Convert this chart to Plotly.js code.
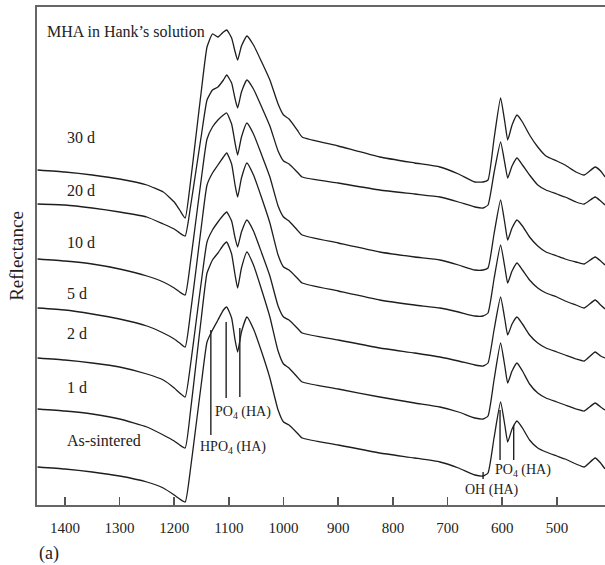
<!DOCTYPE html>
<html>
<head>
<meta charset="utf-8">
<script src="https://cdn.plot.ly/plotly-3.0.1.min.js"></script>
<style>
  html, body { margin: 0; padding: 0; background: #ffffff; }
  #chart { width: 605px; height: 565px; }
</style>
</head>
<body>
<div id="chart"></div>
<script>
// Wavenumber (cm^-1), shared by all spectra
const wavenumber = [1450,1400,1350,1300,1250,1220,1200,1190,1180,1170,1160,1150,1140,1130,1120,1110,1104,1095,1089,1084,1077,1067,1055,1040,1025,1010,1000,990,975,966,900,824,760,714,680,650,635,626,615,603,595,590,582,573,563,550,535,520,500,485,465,450,430,420,412];

// Reflectance (arbitrary units, stacked)
const r30d = [335,333,330,326,320,313,303,295,287, 324,370,416,458, 471,468,473,475,467,454,445,459,469, 460,443,425,401,390,386,375,368, 359,348,342,338,331,323,323,325, 366,407,382,365,380,390,383, 370,358,349,344,340,333,330,338,334,328];
const r20d = [301,300,297,293,288,281,276,272,269, 299,335,371,405, 415,418,425,430,422,407,397,413,425, 416,398,379,354,344,341,333,328, 322,315,311,308,303,298,297,300, 332,363,341,327,339,347,340, 330,320,315,311,308,303,301,308,304,300];
const r10d = [246,244,241,236,229,223,217,213,210, 244,286,328,366, 378,385,390,392,381,363,350,368,382, 371,350,328,299,288,284,275,270, 262,253,248,245,240,235,235,237, 271,305,281,265,277,285,279, 268,259,253,249,246,243,241,248,244,240];
const r5d  = [197,195,191,186,179,172,166,162,158, 193,236,280,320, 332,340,348,352,341,321,308,327,342, 330,307,282,250,238,235,227,222, 214,205,200,197,193,189,189,192, 226,260,237,222,234,242,235, 225,217,212,208,204,200,197,205,200,196];
const r2d  = [147,145,142,138,131,125,117,112,108, 141,183,225,263, 275,283,290,293,284,268,258,273,285, 274,252,229,199,188,185,177,172, 165,157,152,148,144,140,139,142, 175,208,185,170,181,188,181, 170,162,157,153,150,146,144,153,149,147];
const r1d  = [96,94,91,86,78,70,64,60,57, 95,142,189,232, 245,252,260,263,251,231,217,237,253, 240,215,188,154,141,137,128,123, 116,108,102,98,93,87,86,89, 125,162,138,122,134,142,134, 121,112,107,103,100,96,94,102,98,95];
const rAsSintered = [38,36,33,29,23,17,10,6,3, 37,80,123,163, 175,185,195,198,187,166,153,173,188, 176,153,127,95,83,80,72,67, 60,52,47,43,37,30,29,32, 67,103,79,63,76,84,77, 65,57,53,49,46,41,38,47,42,36];

const seriesNames = ['30 d','20 d','10 d','5 d','2 d','1 d','As-sintered'];
const seriesValues = [r30d, r20d, r10d, r5d, r2d, r1d, rAsSintered];

// Curve labels: text, wavenumber, reflectance level
const labelTexts = ["MHA in Hank\u2019s solution",'30 d','20 d','10 d','5 d','2 d','1 d','As-sintered'];
const labelX = [1437,1400,1400,1400,1400,1400,1400,1400];
const labelY = [474,368,315,263,212,172,118,65];

// Band assignments: marker lines (wavenumber, top, bottom)
const markerX = [1133,1105,1080,604,579,635];
const markerTop = [175,183,177,95,80,33];
const markerBottom = [70,107,108,45,45,26];
const bandTexts = ['HPO<sub>4</sub> (HA)','PO<sub>4</sub> (HA)','PO<sub>4</sub> (HA)','OH (HA)'];
const bandX = [1157,1129,617,672];
const bandY = [58,93,35,15];

const xTicks = [1400,1300,1200,1100,1000,900,800,700,600,500];

const traces = seriesValues.map((v, i) => ({
  x: wavenumber, y: v, name: seriesNames[i], type: 'scatter', mode: 'lines',
  line: {color: '#1e1e1e', width: 1.3, shape: 'spline', smoothing: 0.45},
  hoverinfo: 'skip'
}));

const serif = 'Liberation Serif, Times New Roman, serif';
const annotations = [];
labelTexts.forEach((t, i) => annotations.push({
  x: labelX[i], y: labelY[i], xref: 'x', yref: 'y', text: t, showarrow: false,
  xanchor: 'left', yanchor: 'middle', font: {family: serif, size: 16, color: '#222'}
}));
bandTexts.forEach((t, i) => annotations.push({
  x: bandX[i], y: bandY[i], xref: 'x', yref: 'y', text: t, showarrow: false,
  xanchor: 'left', yanchor: 'middle', font: {family: serif, size: 14, color: '#222'}
}));
annotations.push({
  x: 0.0, y: -0.097, xref: 'paper', yref: 'paper', text: '(a)', showarrow: false,
  xanchor: 'left', yanchor: 'middle', font: {family: serif, size: 18, color: '#222'}
});

const shapes = markerX.map((mx, i) => ({
  type: 'line', xref: 'x', yref: 'y', x0: mx, x1: mx, y0: markerTop[i], y1: markerBottom[i],
  line: {color: '#222', width: 1.4}
}));

const layout = {
  width: 605, height: 565,
  margin: {l: 37, r: 0, t: 7, b: 60},
  paper_bgcolor: '#ffffff', plot_bgcolor: '#ffffff',
  showlegend: false,
  font: {family: serif, color: '#222'},
  xaxis: {
    range: [1451, 412], tickvals: xTicks, ticktext: xTicks.map(String),
    ticks: 'inside', ticklen: 8, tickwidth: 1.5, tickcolor: '#555',
    ticklabelstandoff: 8,
    showline: true, linecolor: '#666', linewidth: 2, mirror: true,
    showgrid: false, zeroline: false,
    tickfont: {family: serif, size: 15, color: '#222'}
  },
  yaxis: {
    range: [0, 498], showticklabels: false, ticks: '',
    showline: true, linecolor: '#666', linewidth: 2, mirror: true,
    showgrid: false, zeroline: false,
    title: {text: 'Reflectance', font: {family: serif, size: 19, color: '#222'}, standoff: 6}
  },
  annotations: annotations,
  shapes: shapes
};

Plotly.newPlot('chart', traces, layout, {displayModeBar: false, staticPlot: true});
</script>
</body>
</html>
